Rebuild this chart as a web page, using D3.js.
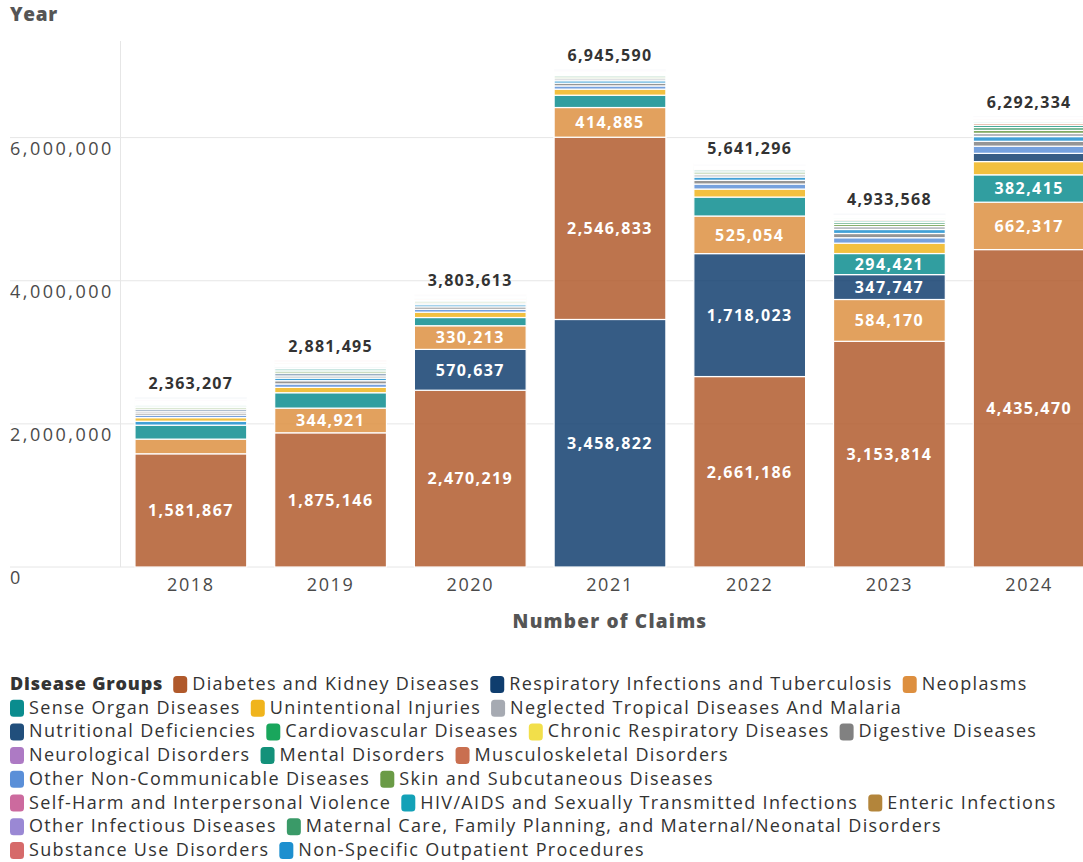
<!DOCTYPE html>
<html>
<head>
<meta charset="utf-8">
<script src="https://cdn.jsdelivr.net/npm/d3@7/dist/d3.min.js"></script>
<style>
  html, body { margin: 0; padding: 0; background: #fff; }
  svg { display: block; font-family: "Open Sans", sans-serif; }
  .tick-label { fill: #4a4a4a; font-size: 18px; letter-spacing: 2.5px; }
  .x-label { fill: #4a4a4a; font-size: 18px; letter-spacing: 1.6px; }
  .axis-title { fill: #555; font-size: 19px; font-weight: 800; letter-spacing: 1.2px; }
  .seg-label { fill: #fff; font-size: 16px; font-weight: 700; letter-spacing: 1.4px; }
  .total-label { fill: #333; font-size: 16px; font-weight: 700; letter-spacing: 1.3px; }
  .legend-text { fill: #333; font-size: 18px; letter-spacing: 1.35px; }
</style>
</head>
<body>
<svg id="chart" width="1083" height="862"></svg>
<script>
const years = ['2018', '2019', '2020', '2021', '2022', '2023', '2024'];

const categories = [
  'Diabetes and Kidney Diseases', 'Respiratory Infections and Tuberculosis', 'Neoplasms',
  'Sense Organ Diseases', 'Unintentional Injuries', 'Neglected Tropical Diseases And Malaria',
  'Nutritional Deficiencies', 'Cardiovascular Diseases', 'Chronic Respiratory Diseases', 'Digestive Diseases',
  'Neurological Disorders', 'Mental Disorders', 'Musculoskeletal Disorders',
  'Other Non-Communicable Diseases', 'Skin and Subcutaneous Diseases',
  'Self-Harm and Interpersonal Violence', 'HIV/AIDS and Sexually Transmitted Infections', 'Enteric Infections',
  'Other Infectious Diseases', 'Maternal Care, Family Planning, and Maternal/Neonatal Disorders',
  'Substance Use Disorders', 'Non-Specific Outpatient Procedures'
];

const colors = [
  '#b0592b', '#0f3d6e', '#dd8f3f', '#0a8c8e', '#f0b41c', '#a6aab2',
  '#214f7c', '#19a65c', '#f2df4a', '#818181', '#ad7ac4', '#13917a', '#c96f50',
  '#5a8fd8', '#6a9b46', '#cc6a9e', '#13a1b7', '#b3853b', '#9a88d4', '#3a9a68',
  '#d66a6a', '#1d8fcf'
];

// claims per category (same order as categories), one entry per year
const claims2018 = [1581867, 25000, 205000, 195000, 50000, 28000, 4000, 12000, 10000, 30000, 9000, 18000, 16000, 35000, 22000, 5000, 14000, 8000, 7000, 20000, 13340, 55000];
const claims2019 = [1875146, 30000, 344921, 215000, 75000, 32000, 5000, 15000, 13000, 45000, 11000, 21000, 19000, 48000, 27000, 6500, 17000, 9500, 8000, 24000, 4428, 36000];
const claims2020 = [2470219, 570637, 330213, 115000, 75000, 22000, 3000, 9000, 7500, 34000, 6000, 16000, 13000, 40000, 20000, 3500, 10000, 5000, 4500, 18000, 1044, 30000];
const claims2021 = [2546833, 3458822, 414885, 172000, 85000, 28000, 1500, 9000, 7000, 38000, 5500, 17000, 14000, 45000, 24000, 2000, 11000, 4500, 3000, 20000, 4550, 34000];
const claims2022 = [2661186, 1718023, 525054, 265000, 112000, 33000, 3000, 12000, 10000, 52000, 8000, 20000, 17000, 70000, 26000, 4000, 14000, 6500, 5000, 24000, 9533, 46000];
const claims2023 = [3153814, 347747, 584170, 294421, 145000, 41000, 3500, 13000, 11000, 59000, 9000, 23000, 19000, 76000, 30000, 4500, 16000, 7000, 5500, 27000, 7916, 56000];
const claims2024 = [4435470, 115000, 662317, 382415, 185000, 45000, 4000, 17000, 14000, 68000, 11000, 30000, 25000, 100000, 42000, 5000, 20000, 9000, 7000, 40000, 9132, 66000];

const claimsByYear = [claims2018, claims2019, claims2020, claims2021, claims2022, claims2023, claims2024];

const yTicks = [0, 2000000, 4000000, 6000000];

const svg = d3.select('#chart');
const fmt = d3.format(',');

const x = d3.scaleBand().domain(years).range([121, 1099]).paddingInner(0.2).paddingOuter(0.1);
const y = d3.scaleLinear().domain([0, 7350000]).range([567, 41]);
const color = d3.scaleOrdinal().domain(categories).range(colors);

// grid
const grid = svg.append('g');
grid.selectAll('line.h')
  .data(yTicks)
  .join('line')
  .attr('x1', 10)
  .attr('x2', 1083)
  .attr('y1', (d) => y(d))
  .attr('y2', (d) => y(d))
  .attr('stroke', '#e6e6e6');
grid.append('line')
  .attr('x1', 120.5).attr('x2', 120.5)
  .attr('y1', y.range()[1]).attr('y2', y(0))
  .attr('stroke', '#e6e6e6');

grid.selectAll('text')
  .data(yTicks)
  .join('text')
  .attr('class', 'tick-label')
  .attr('x', 10)
  .attr('y', (d) => y(d) + 17)
  .text((d) => fmt(d));

// stacks, largest segment at the bottom of each bar
const stacks = years.map((year, i) => {
  const values = claimsByYear[i];
  const order = d3.range(categories.length).sort((a, b) => values[b] - values[a]);
  let acc = 0;
  const segs = order.map((k) => {
    const s = { year, cat: categories[k], value: values[k], y0: acc, y1: acc + values[k] };
    acc += values[k];
    return s;
  });
  return { year, total: d3.sum(values), segs };
});

const bars = svg.append('g');
const barGroups = bars.selectAll('g')
  .data(stacks)
  .join('g');

barGroups.selectAll('rect')
  .data((d) => d.segs)
  .join('rect')
  .attr('x', (d) => x(d.year))
  .attr('width', x.bandwidth())
  .attr('y', (d) => y(d.y1))
  .attr('height', (d) => y(d.y0) - y(d.y1))
  .attr('fill', (d) => color(d.cat))
  .attr('fill-opacity', 0.84)
  .attr('stroke', '#fff')
  .attr('stroke-width', 1.2);

barGroups.selectAll('text.seg-label')
  .data((d) => d.segs.filter((s) => s.value >= 280000))
  .join('text')
  .attr('class', 'seg-label')
  .attr('x', (d) => x(d.year) + x.bandwidth() / 2)
  .attr('y', (d) => (y(d.y0) + y(d.y1)) / 2)
  .attr('dy', '0.36em')
  .attr('text-anchor', 'middle')
  .text((d) => fmt(d.value));

barGroups.append('text')
  .attr('class', 'total-label')
  .attr('x', (d) => x(d.year) + x.bandwidth() / 2)
  .attr('y', (d) => y(d.total) - 9)
  .attr('text-anchor', 'middle')
  .text((d) => fmt(d.total));

// x axis labels
svg.append('g')
  .selectAll('text')
  .data(years)
  .join('text')
  .attr('class', 'x-label')
  .attr('x', (d) => x(d) + x.bandwidth() / 2)
  .attr('y', 591)
  .attr('text-anchor', 'middle')
  .text((d) => d);

svg.append('text')
  .attr('class', 'axis-title')
  .attr('x', 610)
  .attr('y', 628)
  .attr('text-anchor', 'middle')
  .text('Number of Claims');

svg.append('text')
  .attr('class', 'axis-title')
  .attr('x', 10)
  .attr('y', 21)
  .attr('font-size', 18)
  .style('letter-spacing', '0.7px')
  .text('Year');

// legend, flowing into rows
const legend = svg.append('g');
const maxX = 1080;
const rowH = 23.7;
let lx = 10;
let ly = 690;

const title = legend.append('text')
  .attr('class', 'legend-text')
  .attr('x', lx)
  .attr('y', ly)
  .attr('font-weight', 800)
  .attr('fill', '#444')
  .style('letter-spacing', '0.8px')
  .text('Disease Groups');
lx += title.node().getComputedTextLength() + 10;

categories.forEach((cat) => {
  const item = legend.append('g');
  const label = item.append('text')
    .attr('class', 'legend-text')
    .attr('x', 19)
    .attr('y', 0)
    .text(cat);
  const w = 19 + label.node().getComputedTextLength();
  if (lx + w > maxX) {
    lx = 10;
    ly += rowH;
  }
  item.attr('transform', `translate(${lx},${ly})`);
  item.insert('rect', 'text')
    .attr('x', 0)
    .attr('y', -14)
    .attr('width', 14)
    .attr('height', 17)
    .attr('rx', 3.5)
    .attr('fill', color(cat));
  lx += w + 10;
});
</script>
</body>
</html>
